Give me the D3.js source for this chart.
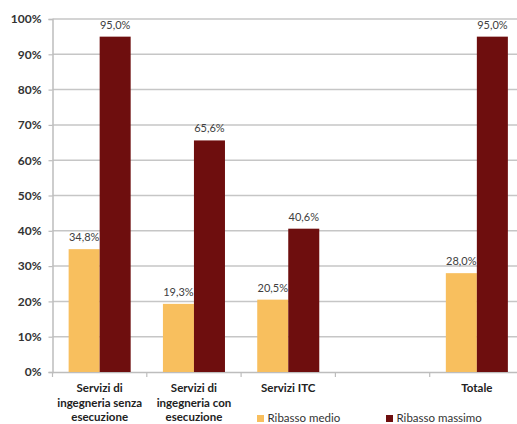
<!DOCTYPE html>
<html><head><meta charset="utf-8">
<script src="https://cdn.jsdelivr.net/npm/d3@7"></script>
<style>body{margin:0;background:#fff}svg{display:block}</style>
</head><body>
<script>
const categories = [["Servizi di","ingegneria senza","esecuzione"],["Servizi di","ingegneria con","esecuzione"],["Servizi ITC"],[""],["Totale"]];
const catKeys = ["c1","c2","c3","c4","c5"];
const seriesNames = ["Ribasso medio","Ribasso massimo"];
const ribassoMedio = [34.8, 19.3, 20.5, null, 28.0];
const ribassoMassimo = [95.0, 65.6, 40.6, null, 95.0];
const yTicks = [0,10,20,30,40,50,60,70,80,90,100];
const colors = ["#F8BF5E","#6E0E0E"];

const W=517,H=424;
const svg=d3.select("body").append("svg").attr("width",W).attr("height",H);
const font="Lato, 'Open Sans', sans-serif";
const x=d3.scaleBand().domain(catKeys).range([52.5,524]).paddingInner(0).paddingOuter(0);
const y=d3.scaleLinear().domain([0,100]).range([372,19]);
const inner=d3.scaleBand().domain(seriesNames).range([0,x.bandwidth()]).paddingInner(0).paddingOuter(0.52);

// gridlines
svg.append("g").selectAll("line").data(yTicks.filter(d=>d>0)).join("line")
 .attr("x1",52.5).attr("x2",524).attr("y1",d=>y(d)).attr("y2",d=>y(d))
 .attr("stroke","#C6C6C6").attr("stroke-width",1.5);

// y axis
const ya=svg.append("g").attr("transform","translate(52.5,0)").call(d3.axisLeft(y).tickValues(yTicks).tickSize(4).tickFormat(d=>d+"%"));
ya.select(".domain").attr("stroke","#BDBDBD").attr("stroke-width",1.5);
ya.selectAll(".tick line").attr("stroke","#BDBDBD").attr("stroke-width",1.2);
ya.selectAll(".tick text").attr("font-family",font).attr("font-size",12).attr("font-weight","bold").attr("fill","#333").attr("x",-11);

// x axis
const xa=svg.append("g").attr("transform","translate(0,372)").call(d3.axisBottom(x).tickValues([]).tickSizeOuter(0));
xa.select(".domain").attr("stroke","#BDBDBD").attr("stroke-width",1.5);
const bounds=catKeys.map(k=>x(k)).concat([x(catKeys[4])+x.bandwidth()]);
svg.append("g").selectAll("line").data(bounds).join("line")
 .attr("x1",d=>d).attr("x2",d=>d).attr("y1",372).attr("y2",377).attr("stroke","#BDBDBD").attr("stroke-width",1.2);

// bars
const data=[];
catKeys.forEach((k,i)=>{
 if(ribassoMedio[i]!=null) data.push({k,s:seriesNames[0],v:ribassoMedio[i],c:colors[0]});
 if(ribassoMassimo[i]!=null) data.push({k,s:seriesNames[1],v:ribassoMassimo[i],c:colors[1]});
});
svg.append("g").selectAll("rect").data(data).join("rect")
 .attr("x",d=>x(d.k)+inner(d.s)).attr("width",inner.bandwidth())
 .attr("y",d=>y(d.v)).attr("height",d=>y(0)-y(d.v)).attr("fill",d=>d.c);
svg.append("g").selectAll("text").data(data).join("text")
 .attr("x",d=>x(d.k)+inner(d.s)+inner.bandwidth()/2).attr("y",d=>y(d.v)-8)
 .attr("text-anchor","middle").attr("font-family",font).attr("font-size",11).attr("fill","#404040")
 .text(d=>d.v.toFixed(1).replace(".",",")+"%");

// category labels
const cl=svg.append("g").selectAll("text").data(catKeys).join("text")
 .attr("x",d=>x(d)+x.bandwidth()/2).attr("y",392).attr("text-anchor","middle")
 .attr("font-family",font).attr("font-size",11.5).attr("font-weight","bold").attr("fill","#222");
cl.each(function(d,i){
 const t=d3.select(this);
 categories[i].forEach((line,j)=>t.append("tspan").attr("x",x(d)+x.bandwidth()/2).attr("dy",j?14.5:0).text(line));
});

// legend
const lg=svg.append("g");
const lx=[257,386];
seriesNames.forEach((s,i)=>{
 lg.append("rect").attr("x",lx[i]).attr("y",415).attr("width",7).attr("height",7).attr("fill",colors[i]);
 lg.append("text").attr("x",lx[i]+10.5).attr("y",422).attr("font-family",font).attr("font-size",11.5).attr("fill","#333").text(s);
});
</script>
</body></html>
